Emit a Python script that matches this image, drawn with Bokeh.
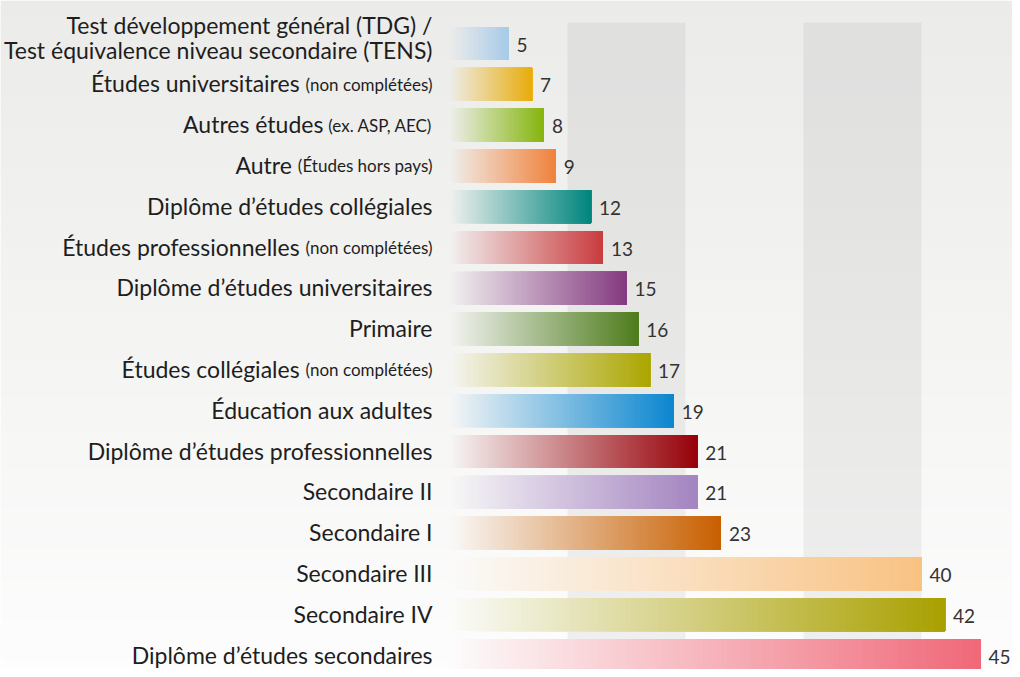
import glob
import subprocess

from bokeh.plotting import figure
from bokeh.models import Range1d, BoxAnnotation
from bokeh.core.properties import value
from bokeh.embed import file_html
from bokeh.resources import INLINE

# ---------------- data ----------------
labels_main = [
    "Test développement général (TDG) /\nTest équivalence niveau secondaire (TENS)",
    "Études universitaires",
    "Autres études",
    "Autre",
    "Diplôme d’études collégiales",
    "Études professionnelles",
    "Diplôme d’études universitaires",
    "Primaire",
    "Études collégiales",
    "Éducation aux adultes",
    "Diplôme d’études professionnelles",
    "Secondaire II",
    "Secondaire I",
    "Secondaire III",
    "Secondaire IV",
    "Diplôme d’études secondaires",
]
labels_small = [
    "", "(non complétées)", "(ex. ASP, AEC)", "(Études hors pays)", "",
    "(non complétées)", "", "", "(non complétées)", "", "", "", "", "", "", "",
]
values = [5, 7, 8, 9, 12, 13, 15, 16, 17, 19, 21, 21, 23, 40, 42, 45]
bar_colors = [
    "#a8cbe8", "#e8ad0c", "#86b50c", "#f0823c", "#00857d", "#c93c3e",
    "#843a80", "#4e7c1c", "#aba600", "#0b86cf", "#960008", "#a384c0",
    "#c85f00", "#f9c282", "#a9a000", "#f06878",
]
band_ticks = [0, 10, 20, 30, 40, 50]

# ---------------- layout ----------------
W, H = 1012, 669
PX_PER_UNIT = 11.8
ZERO_PX = 449.0
ROW0_PX = 43.0
PITCH = 40.8
BAR_H = 33.0 / PITCH

FONT = "Lato"
MAIN_SIZE = 23
SMALL_SIZE = 17
NUM_SIZE = 19

x0 = -ZERO_PX / PX_PER_UNIT
x1 = (W - ZERO_PX) / PX_PER_UNIT
y_top = -ROW0_PX / PITCH
y_bot = (H - ROW0_PX) / PITCH

BG_TOP = (235, 235, 233)
BG_BOT = (253, 253, 253)


def bg_at(px):
    t = min(max(px / 677.0, 0.0), 1.0)
    return tuple(BG_TOP[k] + (BG_BOT[k] - BG_TOP[k]) * t for k in range(3))


def hex2rgb(h):
    h = h.lstrip("#")
    return tuple(int(h[i:i + 2], 16) for i in (0, 2, 4))


def rgb2hex(c):
    return "#%02x%02x%02x" % tuple(int(round(min(max(v, 0), 255))) for v in c)


def find_font(name):
    try:
        out = subprocess.check_output(["fc-match", "-f", "%{file}", name + ":style=Regular"],
                                      stderr=subprocess.DEVNULL).decode()
        if out:
            return out
    except Exception:
        pass
    c = glob.glob("/usr/share/fonts/**/%s-Regular.ttf" % name, recursive=True)
    return c[0] if c else None


def text_width(txt, size):
    try:
        from PIL import ImageFont
        f = ImageFont.truetype(find_font(FONT), size)
        return f.getlength(txt)
    except Exception:
        return len(txt) * size * 0.47


p = figure(width=W, height=H, output_backend="svg", toolbar_location=None,
           x_range=Range1d(x0, x1), y_range=Range1d(y_bot, y_top),
           x_axis_location=None, y_axis_location=None, min_border=0)
p.grid.visible = False
p.outline_line_color = None
p.background_fill_color = "#ffffff"
p.border_fill_color = "#ffffff"

# background vertical gradient (drawn first, below the bands)
NS = 120
sl, sr, st, sb, sc = [], [], [], [], []
for k in range(NS):
    a = k * H / NS
    b = (k + 1.6) * H / NS
    st.append((a - ROW0_PX) / PITCH)
    sb.append((b - ROW0_PX) / PITCH)
    sl.append(x0)
    sr.append(x1)
    sc.append(rgb2hex(bg_at((a + b) / 2)))
bg_r = p.quad(left=sl, right=sr, top=st, bottom=sb, fill_color=sc, line_color=None)
bg_r.level = "image"

# bands (under the bars)
for a, b in zip(band_ticks[1::2], band_ticks[2::2]):
    p.add_layout(BoxAnnotation(left=a, right=b, top=(22 - ROW0_PX) / PITCH, bottom=y_bot,
                               fill_color="#000000", fill_alpha=0.05, line_alpha=0,
                               level="underlay"))

# gradient bars: each bar is drawn as thin opaque slices, every slice extending
# to the bar's end so later (darker) slices cover the earlier ones without seams
N = 90
ys, lefts, rights, cols = [], [], [], []
for i, (v, c) in enumerate(zip(values, bar_colors)):
    cr = hex2rgb(c)
    bg = bg_at(ROW0_PX + PITCH * i)
    step = v / N
    for k in range(N):
        t = (k + 0.5) / N
        col = tuple(bg[j] * (1 - t) + cr[j] * t for j in range(3))
        ys.append(i)
        lefts.append(k * step)
        rights.append(v)
        cols.append(rgb2hex(col))
p.hbar(y=ys, left=lefts, right=rights, height=BAR_H, fill_color=cols, line_color=None)

# value labels
p.text(x=values, y=list(range(len(values))), text=[str(v) for v in values],
       x_offset=8, y_offset=1, text_align="left", text_baseline="middle",
       text_font=value(FONT), text_font_size="%dpx" % NUM_SIZE, text_color="#333333")

# category labels
m_x, m_y, m_t, m_off, m_yoff = [], [], [], [], []
s_y, s_t = [], []
for i, (lm, ls) in enumerate(zip(labels_main, labels_small)):
    if "\n" in lm:
        l1, l2 = lm.split("\n")
        for txt, yo in ((l1, -19), (l2, 6)):
            m_x.append(0); m_y.append(i); m_t.append(txt); m_off.append(-17); m_yoff.append(yo)
        continue
    off = -17
    if ls:
        s_y.append(i); s_t.append(ls)
        off = -17 - text_width(ls, SMALL_SIZE) - 6
    m_x.append(0); m_y.append(i); m_t.append(lm); m_off.append(off); m_yoff.append(-1)

p.text(x=m_x, y=m_y, text=m_t, x_offset=m_off, y_offset=m_yoff,
       text_align="right", text_baseline="middle",
       text_font=value(FONT), text_font_size="%dpx" % MAIN_SIZE, text_color="#1e1e1e")
p.text(x=[0] * len(s_y), y=s_y, text=s_t, x_offset=-17, y_offset=0,
       text_align="right", text_baseline="middle",
       text_font=value(FONT), text_font_size="%dpx" % SMALL_SIZE, text_color="#1e1e1e")

open("out.html", "w").write(file_html(p, INLINE))
